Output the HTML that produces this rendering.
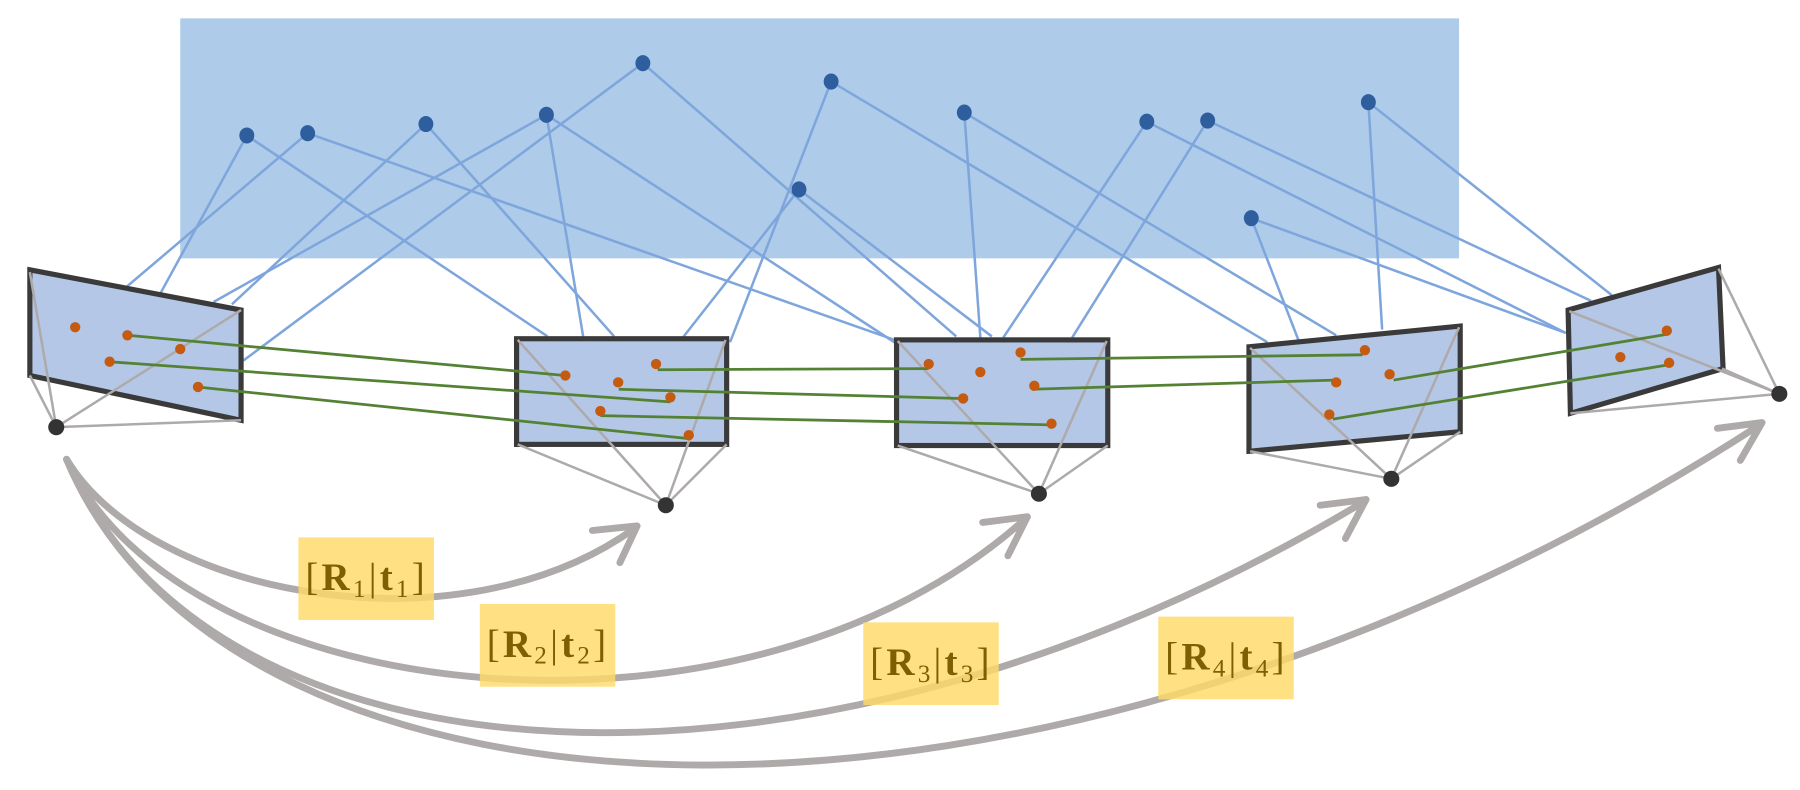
<!DOCTYPE html>
<html><head><style>html,body{margin:0;padding:0;background:#fff}svg{display:block}</style></head>
<body>
<svg width="1800" height="790" viewBox="0 0 1568 688" preserveAspectRatio="none" xmlns="http://www.w3.org/2000/svg">
<rect x="157" y="16" width="1114" height="209" fill="#aecce9"/>
<g stroke="#7fa6dc" stroke-width="2.2" fill="none">
<line x1="215" y1="118" x2="140" y2="255"/><line x1="215" y1="118" x2="477" y2="293"/>
<line x1="268" y1="116" x2="110" y2="250"/><line x1="268" y1="116" x2="782" y2="297"/>
<line x1="371" y1="108" x2="202" y2="265"/><line x1="371" y1="108" x2="535" y2="293"/>
<line x1="476" y1="100" x2="186" y2="263"/><line x1="476" y1="100" x2="508" y2="293"/><line x1="476" y1="100" x2="782" y2="300"/>
<line x1="560" y1="55" x2="212" y2="314"/><line x1="560" y1="55" x2="833" y2="293"/>
<line x1="724" y1="71" x2="636" y2="298"/><line x1="724" y1="71" x2="1104" y2="298"/>
<line x1="696" y1="165" x2="594" y2="295"/><line x1="696" y1="165" x2="864" y2="293"/>
<line x1="840" y1="98" x2="854" y2="294"/><line x1="840" y1="98" x2="1164" y2="292"/>
<line x1="999" y1="106" x2="874" y2="294"/><line x1="999" y1="106" x2="1364" y2="290"/>
<line x1="1052" y1="105" x2="934" y2="294"/><line x1="1052" y1="105" x2="1386" y2="262"/>
<line x1="1192" y1="89" x2="1204" y2="287"/><line x1="1192" y1="89" x2="1404" y2="257"/>
<line x1="1090" y1="190" x2="1131" y2="296"/><line x1="1090" y1="190" x2="1364" y2="290"/>
</g>
<g fill="#2e5e9e">
<ellipse cx="215" cy="118" rx="6.5" ry="7"/><ellipse cx="268" cy="116" rx="6.5" ry="7"/><ellipse cx="371" cy="108" rx="6.5" ry="7"/>
<ellipse cx="476" cy="100" rx="6.5" ry="7"/><ellipse cx="560" cy="55" rx="6.5" ry="7"/><ellipse cx="724" cy="71" rx="6.5" ry="7"/>
<ellipse cx="696" cy="165" rx="6.5" ry="7"/><ellipse cx="840" cy="98" rx="6.5" ry="7"/><ellipse cx="999" cy="106" rx="6.5" ry="7"/>
<ellipse cx="1052" cy="105" rx="6.5" ry="7"/><ellipse cx="1192" cy="89" rx="6.5" ry="7"/><ellipse cx="1090" cy="190" rx="6.5" ry="7"/>
</g>
<g fill="#b4c7e7" stroke="#3a3a3a" stroke-width="4.5" stroke-linejoin="miter">
<polygon points="26,235 210,270 210,366 26,327"/>
<rect x="450" y="295" width="183" height="92"/>
<rect x="781" y="296" width="184" height="92"/>
<polygon points="1088,302 1272,284 1272,376 1088,393"/>
<polygon points="1366,270 1497,233 1501,321 1368,360"/>
</g>
<g stroke="#aeaaaa" stroke-width="2.2" fill="none">
<path d="M49,372 L26,237 M49,372 L210,270 M49,372 L210,366 M49,372 L26,327"/>
<path d="M580,440 L451,296 M580,440 L632,296 M580,440 L633,387 M580,440 L451,387"/>
<path d="M905,430 L782,297 M905,430 L964,297 M905,430 L965,388 M905,430 L782,388"/>
<path d="M1212,417 L1089,303 M1212,417 L1271,285 M1212,417 L1272,376 M1212,417 L1089,393"/>
<path d="M1550,343 L1367,271 M1550,343 L1497,234 M1550,343 L1500,321 M1550,343 L1368,360"/>
</g>
<g stroke="#548235" stroke-width="2.4" fill="none">
<line x1="111" y1="292" x2="492" y2="327"/><line x1="95" y1="315" x2="584" y2="350"/><line x1="172" y1="337" x2="600" y2="382"/>
<line x1="573" y1="322" x2="809" y2="321"/><line x1="539" y1="339" x2="837" y2="347"/><line x1="523" y1="362" x2="916" y2="370"/>
<line x1="889" y1="313" x2="1187" y2="309"/><line x1="899" y1="339" x2="1162" y2="331"/>
<line x1="1214" y1="331" x2="1453" y2="291"/><line x1="1161" y1="365" x2="1452" y2="318"/>
</g>
<g fill="#c55a11">
<circle cx="65.5" cy="285" r="4.5"/><circle cx="111" cy="292" r="4.5"/><circle cx="157" cy="304" r="4.5"/><circle cx="95.5" cy="315" r="4.5"/><circle cx="172.5" cy="337" r="4.5"/>
<circle cx="492.5" cy="327" r="4.5"/><circle cx="571.5" cy="317" r="4.5"/><circle cx="538.5" cy="333" r="4.5"/><circle cx="584" cy="346" r="4.5"/><circle cx="523" cy="358" r="4.5"/><circle cx="600" cy="379" r="4.5"/>
<circle cx="809" cy="317" r="4.5"/><circle cx="854" cy="324" r="4.5"/><circle cx="889" cy="307" r="4.5"/><circle cx="839" cy="347" r="4.5"/><circle cx="901" cy="336" r="4.5"/><circle cx="916" cy="369" r="4.5"/>
<circle cx="1189" cy="305" r="4.5"/><circle cx="1164" cy="333" r="4.5"/><circle cx="1210.5" cy="326" r="4.5"/><circle cx="1158" cy="361" r="4.5"/>
<circle cx="1452" cy="288" r="4.5"/><circle cx="1411.5" cy="311" r="4.5"/><circle cx="1454" cy="316" r="4.5"/>
</g>
<g fill="#333">
<circle cx="49" cy="372" r="7"/><circle cx="580" cy="440" r="7"/><circle cx="905" cy="430" r="7"/><circle cx="1212" cy="417" r="7"/><circle cx="1550" cy="343" r="7"/>
</g>
<g stroke="#aeaaaa" stroke-width="6" fill="none" stroke-linecap="round" stroke-linejoin="round">
<path d="M58,400 C130,520 400,570 553,460"/>
<path d="M58,400 C160,620 650,670 893,452"/>
<path d="M58,400 C180,690 700,730 1188,437"/>
<path d="M58,400 C200,740 900,780 1533,370"/>
<path d="M516,462 L555,458 L540,490"/>
<path d="M856,455 L895,450 L878,484"/>
<path d="M1150,440 L1190,435 L1172,469"/>
<path d="M1496,373 L1535,368 L1516,401"/>
</g>
<g fill="#ffd966" fill-opacity="0.82">
<rect x="260" y="468" width="118" height="72"/>
<rect x="418" y="526" width="118" height="72"/>
<rect x="752" y="542" width="118" height="72"/>
<rect x="1009" y="537" width="118" height="72"/>
</g>
<g font-family="'Liberation Serif', serif" font-size="34" fill="#7f6000">
<text x="266" y="514" textLength="104" lengthAdjust="spacing">[<tspan font-weight="bold">R</tspan><tspan font-size="22" dy="6">1</tspan><tspan dy="-6">|</tspan><tspan font-weight="bold">t</tspan><tspan font-size="22" dy="6">1</tspan><tspan dy="-6">]</tspan></text>
<text x="424" y="572" textLength="104" lengthAdjust="spacing">[<tspan font-weight="bold">R</tspan><tspan font-size="22" dy="6">2</tspan><tspan dy="-6">|</tspan><tspan font-weight="bold">t</tspan><tspan font-size="22" dy="6">2</tspan><tspan dy="-6">]</tspan></text>
<text x="758" y="588" textLength="104" lengthAdjust="spacing">[<tspan font-weight="bold">R</tspan><tspan font-size="22" dy="6">3</tspan><tspan dy="-6">|</tspan><tspan font-weight="bold">t</tspan><tspan font-size="22" dy="6">3</tspan><tspan dy="-6">]</tspan></text>
<text x="1015" y="583" textLength="104" lengthAdjust="spacing">[<tspan font-weight="bold">R</tspan><tspan font-size="22" dy="6">4</tspan><tspan dy="-6">|</tspan><tspan font-weight="bold">t</tspan><tspan font-size="22" dy="6">4</tspan><tspan dy="-6">]</tspan></text>
</g>
</svg>
</body></html>
